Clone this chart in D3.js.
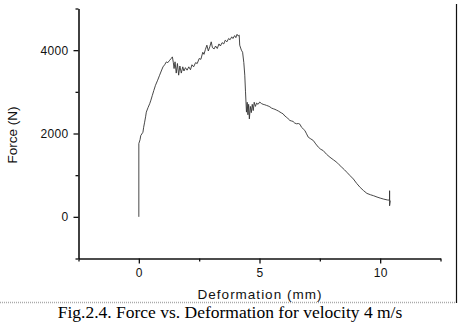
<!DOCTYPE html>
<html>
<head>
<meta charset="utf-8">
<script src="https://cdn.jsdelivr.net/npm/d3@7"></script>
<style>
  html, body { margin: 0; padding: 0; background: #fff; }
  svg { display: block; }
</style>
</head>
<body>
<svg id="chart" width="475" height="325"></svg>
<script>
// ---- data ----
const deformation = [
  0, 0, 0.05, 0.08, 0.17, 0.2, 0.24, 0.28, 0.31, 0.38, 0.45, 0.5, 0.56, 0.62, 0.69, 0.78, 0.86, 0.93,
  1.0, 1.07, 1.14, 1.2, 1.28, 1.34, 1.39, 1.43, 1.46, 1.5, 1.55, 1.6, 1.65, 1.7, 1.76, 1.82, 1.87, 1.93,
  2.0, 2.07, 2.14, 2.2, 2.27, 2.35, 2.42, 2.5, 2.57, 2.65, 2.7, 2.76, 2.82, 2.88, 2.94,
  3.0, 3.05, 3.12, 3.18, 3.25, 3.32, 3.38, 3.45, 3.52, 3.58, 3.65, 3.72, 3.78, 3.85, 3.9, 3.97,
  4.02, 4.07, 4.12, 4.16, 4.18, 4.22, 4.25, 4.3, 4.35, 4.39, 4.42, 4.46, 4.49, 4.52, 4.55, 4.58,
  4.62, 4.66, 4.7, 4.74, 4.78, 4.83, 4.88, 4.94,
  5.01, 5.08, 5.15, 5.22, 5.29, 5.36, 5.43, 5.5, 5.57, 5.64, 5.71, 5.78, 5.85, 5.92, 5.98,
  6.05, 6.12, 6.19, 6.26, 6.33, 6.39, 6.46, 6.54, 6.61, 6.68, 6.74, 6.81, 6.88, 6.95,
  7.02, 7.1, 7.23, 7.33, 7.44, 7.54, 7.64, 7.78, 7.92, 8.06, 8.2, 8.3, 8.41, 8.52, 8.62, 8.75, 8.89,
  9.03, 9.17, 9.31, 9.45, 9.6, 9.73, 9.87, 10.0, 10.15, 10.3, 10.39, 10.39, 10.39, 10.42
];
const force = [
  0, 1759, 1850, 1950, 2030, 2150, 2272, 2400, 2513, 2620, 2715, 2800, 2916, 3030, 3157, 3280, 3398, 3500,
  3598, 3650, 3718, 3700, 3759, 3800, 3839, 3700, 3559, 3720, 3450, 3680, 3400, 3620, 3450, 3600, 3500, 3580,
  3520, 3600, 3530, 3650, 3600, 3700, 3680, 3800, 3780, 3950, 3900, 4020, 4120, 3980, 4080,
  4200, 4060, 4030, 4100, 4040, 4150, 4100, 4180, 4150, 4240, 4200, 4280, 4250, 4320, 4280, 4350,
  4300, 4380, 4340, 4360, 4120, 4050, 4000, 3950, 3700, 3400, 3000, 2513, 2750, 2450, 2700, 2350,
  2650, 2500, 2700, 2550, 2750, 2650, 2730, 2700,
  2755, 2720, 2700, 2690, 2674, 2660, 2640, 2610, 2594, 2580, 2560, 2540, 2514, 2490, 2470,
  2420, 2393, 2350, 2313, 2300, 2290, 2250, 2233, 2240, 2220, 2150, 2112, 2072, 1992,
  1912, 1880, 1831, 1750, 1671, 1620, 1590, 1500, 1430, 1370, 1310, 1250, 1190, 1130, 1069, 990, 908,
  800, 707, 630, 563, 530, 506, 475, 450, 425, 405, 400, 627, 265, 390
];
const xDomain = [-2.5, 12.5];
const yDomain = [-1000, 5000];
const xMajorTicks = [0, 5, 10];
const xMinorTicks = [-2.5, 2.5, 7.5, 12.5];
const yMajorTicks = [0, 2000, 4000];
const yMinorTicks = [-1000, 1000, 3000, 5000];
const xLabel = "Deformation (mm)";
const yLabel = "Force (N)";
const caption = "Fig.2.4. Force vs. Deformation for velocity 4 m/s";

// ---- drawing ----
const svg = d3.select("#chart");
const x = d3.scaleLinear().domain(xDomain).range([78.5, 440.5]);
const y = d3.scaleLinear().domain(yDomain).range([258.5, 8.5]);

const sans = "Arial, 'Liberation Sans', sans-serif";

// page border on right and dotted separator
svg.append("line")
  .attr("x1", 456.5).attr("x2", 456.5).attr("y1", 4).attr("y2", 303)
  .attr("stroke", "#111").attr("stroke-width", 1.2);
svg.append("line")
  .attr("x1", 0).attr("x2", 456).attr("y1", 302.5).attr("y2", 302.5)
  .attr("stroke", "#aaa").attr("stroke-width", 1.5).attr("stroke-dasharray", "1,1");

// minor ticks
svg.append("g").attr("transform", "translate(0,258.5)")
  .call(d3.axisBottom(x).tickValues(xMinorTicks).tickSize(3).tickSizeOuter(0).tickFormat(""))
  .call(g => g.select(".domain").remove())
  .call(g => g.selectAll("line").attr("stroke", "#111").attr("stroke-width", 1.3));
svg.append("g").attr("transform", "translate(78.5,0)")
  .call(d3.axisLeft(y).tickValues(yMinorTicks).tickSize(3).tickSizeOuter(0).tickFormat(""))
  .call(g => g.select(".domain").remove())
  .call(g => g.selectAll("line").attr("stroke", "#111").attr("stroke-width", 1.3));

// major axes
const xAxis = svg.append("g").attr("transform", "translate(0,258.5)")
  .call(d3.axisBottom(x).tickValues(xMajorTicks).tickSize(5).tickSizeOuter(0).tickPadding(5).tickFormat(d3.format("d")));
const yAxis = svg.append("g").attr("transform", "translate(78.5,0)")
  .call(d3.axisLeft(y).tickValues(yMajorTicks).tickSize(5).tickSizeOuter(0).tickPadding(5).tickFormat(d3.format("d")));
[xAxis, yAxis].forEach(g => {
  g.select(".domain").attr("stroke", "#111").attr("stroke-width", 1.6);
  g.selectAll(".tick line").attr("stroke", "#111").attr("stroke-width", 1.3);
  g.selectAll(".tick text").attr("font-family", sans).attr("font-size", 12)
    .attr("fill", "#111").attr("letter-spacing", "0.3px");
});

// data line
const pts = deformation.map((d, i) => [d, force[i]]);
svg.append("path")
  .datum(pts)
  .attr("fill", "none")
  .attr("stroke", "#333")
  .attr("stroke-width", 0.9)
  .attr("stroke-linejoin", "round")
  .attr("d", d3.line().x(d => x(d[0])).y(d => y(d[1])));

// axis titles
svg.append("text")
  .attr("x", 260).attr("y", 299)
  .attr("text-anchor", "middle")
  .attr("font-family", sans).attr("font-size", 13.5)
  .attr("letter-spacing", "1px")
  .attr("fill", "#111")
  .text(xLabel);
svg.append("text")
  .attr("transform", "translate(17,135) rotate(-90)")
  .attr("text-anchor", "middle")
  .attr("font-family", sans).attr("font-size", 13.5)
  .attr("fill", "#111")
  .text(yLabel);

// caption
svg.append("text")
  .attr("x", 230).attr("y", 318)
  .attr("text-anchor", "middle")
  .attr("font-family", "'Times New Roman', 'Liberation Serif', serif")
  .attr("font-size", 17.5)
  .attr("fill", "#000")
  .text(caption);
</script>
</body>
</html>
